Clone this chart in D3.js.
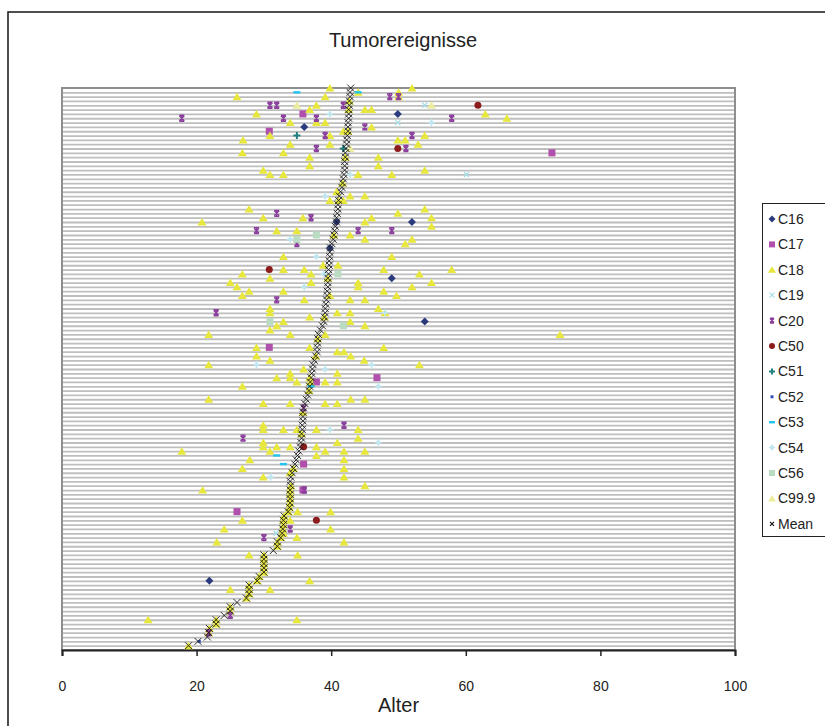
<!DOCTYPE html>
<html><head><meta charset="utf-8">
<script src="https://cdn.jsdelivr.net/npm/d3@7"></script>
<style>body{margin:0;background:#fff}svg{display:block;font-family:"Liberation Sans",Arial,sans-serif}</style>
</head><body><svg id="c" width="825" height="726"></svg>
<script>
const xTicks = [0, 20, 40, 60, 80, 100];
const rowCount = 130;
// mean age per patient row (row 1 = bottom)
const meanAge = [18.8,20.2,21.6,21.8,21.9,22.9,22.9,24.1,25.0,25.0,26.0,27.4,27.8,27.8,27.8,29.0,29.3,30.0,30.0,30.0,
30.0,30.0,31.4,32.0,32.0,32.5,32.7,32.8,32.9,32.9,33.0,33.6,33.8,33.9,33.9,33.9,33.9,34.0,33.9,34.0,
34.2,34.4,34.6,34.8,35.0,35.2,35.4,35.5,35.6,35.6,35.7,35.7,35.8,35.8,35.8,35.9,36.1,36.3,36.5,36.7,
36.8,36.9,37.0,37.1,37.2,37.3,37.5,37.7,37.9,37.9,38.0,38.0,38.1,38.4,38.7,38.9,39.0,39.1,39.1,39.2,
39.3,39.4,39.4,39.5,39.5,39.5,39.6,39.6,39.7,39.7,39.8,39.8,39.9,40.1,40.3,40.4,40.5,40.6,40.8,40.8,
40.9,41.0,41.0,41.1,41.2,41.4,41.6,41.7,41.8,41.9,42.0,42.0,42.0,42.1,42.1,42.2,42.3,42.3,42.4,42.5,
42.5,42.5,42.6,42.6,42.6,42.7,42.7,42.8,42.8,42.9];

// [age, row]
const c16 = [[36.0,121],[49.9,124],[40.8,99],[52.0,99],[49.0,86],[53.9,76],[21.9,16],[39.8,93]];
const c17 = [[35.8,124],[30.8,120],[72.8,115],[30.8,70],[37.8,62],[46.8,63],[35.9,43],[26.0,32],[35.8,37]];
const c18 = [[26.0,128],[36.8,125],[37.8,126],[39.1,128],[39.8,130],[28.9,124],[33.9,122],[37.8,122],[39.1,122],[30.9,119],
[39.8,119],[39.8,117],[26.9,118],[33.9,117],[26.8,115],[32.9,115],[36.8,114],[36.8,112],[29.9,111],[30.9,110],
[32.9,110],[40.8,106],[39.8,104],[27.8,102],[29.9,100],[35.8,100],[20.8,99],[44.0,129],[50.0,129],[50.0,128],
[52.0,130],[45.0,125],[46.0,125],[62.9,124],[66.1,123],[46.0,121],[41.8,120],[49.9,118],[51.0,118],[53.9,119],
[52.9,117],[47.0,114],[47.0,112],[44.0,110],[49.0,110],[53.9,111],[42.8,105],[45.0,105],[41.8,104],[53.9,102],
[49.9,101],[45.0,99],[46.0,100],[54.9,100],[54.9,98],
[31.9,97],[34.9,97],[42.8,96],[45.0,95],[51.0,94],[52.0,95],[32.9,91],[49.0,91],[32.9,88],[36.0,88],
[37.0,87],[38.8,89],[41.0,89],[47.8,88],[53.1,87],[57.9,88],[26.8,87],[25.0,85],[26.0,84],[26.8,82],
[27.8,83],[30.9,86],[37.0,85],[32.9,83],[39.8,82],[44.0,85],[44.0,84],[42.8,81],[45.0,81],[47.8,83],
[49.7,82],[36.0,81],[52.0,84],[54.9,85],[30.9,79],[30.9,78],[30.9,74],[31.9,75],[32.9,76],[36.8,77],
[40.9,78],[42.8,78],[42.8,76],[45.0,75],[47.0,79],[48.0,78],[21.8,73],[33.9,73],[39.1,73],[74.0,73],
[28.9,70],[36.8,70],[47.8,70],[28.9,68],[40.9,69],[41.9,69],[42.9,68],[21.8,66],[30.9,67],[44.9,67],
[53.1,66],[31.9,63],[33.9,64],[33.9,63],[34.9,62],[35.9,65],[36.8,63],[40.9,64],[40.9,62],[39.1,62],
[26.8,61],[21.8,58],[29.9,57],[33.9,57],[39.1,57],[40.9,57],[42.9,58],[45.0,58],[29.9,52],[29.9,51],
[32.9,51],[34.9,51],[37.8,51],[44.0,51],[44.0,49],[17.8,46],[29.9,48],[29.9,47],[30.9,46],[31.9,47],
[33.9,47],[37.8,47],[39.1,46],[40.9,48],[41.9,46],[45.0,46],[27.9,44],[26.8,42],[37.8,45],[41.9,44],
[41.9,42],[41.9,40],[29.9,40],[33.9,41],[45.0,38],[20.9,37],[26.8,30],[24.1,28],[23.0,25],[35.0,32],
[39.9,32],[39.9,28],[41.9,25],[33.9,30],[32.9,27],[34.9,26],[27.8,22],[35.0,22],[25.0,14],[30.9,14],
[36.8,16],[12.8,7],[34.9,7],
// single events lying on the mean
[18.8,1],[21.8,4],[21.9,5],[22.9,6],[22.9,7],[25.0,9],[25.0,10],[27.4,12],[27.8,13],[27.8,14],
[27.8,15],[29.0,16],[29.3,17],[30.0,18],[30.0,19],[30.0,20],[30.0,21],[30.0,22],[32.0,24],[32.0,25],
[32.5,26],[32.7,27],[32.8,28],[32.9,29],[32.9,30],[33.0,31],[33.6,32],[33.8,33],[33.9,34],[33.9,35],
[33.9,36],[33.9,37],[34.0,38],[34.4,42],[35.6,50],[35.8,55],[36.7,60],[36.9,62],[37.7,68],[38.0,72],
[39.0,77],[39.5,86],[40.4,96],[41.1,104],[41.7,108],[42.1,114],[42.5,120],[42.6,125],[42.7,127]];
const c19 = [[53.9,126],[49.9,122],[60.1,110],[31.8,27]];
const c20 = [[30.9,126],[31.9,126],[17.8,123],[32.9,123],[37.8,123],[39.1,119],[37.8,116],[31.9,101],[37.0,100],[48.7,128],
[50.0,128],[41.8,126],[57.9,123],[45.0,121],[52.0,119],[51.1,116],[28.9,97],[44.0,97],[49.0,97],[34.9,94],
[31.9,81],[22.9,78],[35.9,56],[41.9,52],[26.9,49],[36.0,37],[33.9,28],[30.0,26],[21.8,4],[25.0,8]];
const c50 = [[61.8,126],[49.9,116],[30.8,88],[35.9,47],[37.8,30]];
const c51 = [[34.9,119],[41.8,116]];
const c52 = [[20.4,2]];
const c53 = [[34.9,129],[44.0,129],[37.0,61],[31.9,45],[32.9,43]];
const c54 = [[39.8,124],[54.9,122],[42.8,110],[39.1,105],[33.9,95],[37.8,91],[38.9,87],[36.0,84],[48.0,78],[28.9,66],
[46.0,66],[39.1,65],[47.0,61],[39.8,51],[47.0,48],[31.0,40]];
const c56 = [[37.8,96],[34.9,95],[41.0,87],[30.9,76],[41.8,75]];
const c999 = [[34.9,126],[54.9,126],[42.8,116]];

const seriesNames = ["C16","C17","C18","C19","C20","C50","C51","C52","C53","C54","C56","C99.9","Mean"];
const seriesColors = ["#2b3a7c","#b050ac","#e8e83c","#a6dfe8","#8a3c9c","#8c1c1c","#1f8080","#3050b8","#22c4ec","#bfe6f0","#b9dcc2","#ecec9e","#111111"];
const seriesShapes = ["diamond","square","triangle","x","star","circle","plus","dot","dash","star4","square","triangle","x"];

const svg = d3.select("#c");
const L = 62, R = 735, T = 88, B = 650;
const x = d3.scaleLinear().domain([0, 100]).range([L, R]);
const y = d3.scaleLinear().domain([0, rowCount]).range([B, T]);

// outer frame
svg.append("rect").attr("x", 8).attr("y", 12).attr("width", 840).attr("height", 740)
  .attr("fill", "#fff").attr("stroke", "#222").attr("stroke-width", 1.6);

// title
svg.append("text").attr("x", 403).attr("y", 47).attr("text-anchor", "middle")
  .attr("font-size", 20).attr("fill", "#222").text("Tumorereignisse");

// plot background
svg.append("rect").attr("x", L).attr("y", T).attr("width", R - L).attr("height", B - T).attr("fill", "#fff");

// horizontal gridlines via axis
const gridVals = d3.range(1, rowCount);
const grid = svg.append("g").attr("transform", `translate(${L},0)`)
  .call(d3.axisLeft(y).tickValues(gridVals).tickSize(-(R - L)).tickFormat(""));
grid.select(".domain").remove();
grid.selectAll(".tick line").attr("stroke", "#bebebe").attr("stroke-width", 1.8);

// plot border (gray)
svg.append("rect").attr("x", L).attr("y", T).attr("width", R - L).attr("height", B - T)
  .attr("fill", "none").attr("stroke", "#8e8e8e").attr("stroke-width", 2);

// x axis
const xa = svg.append("g").attr("transform", `translate(0,${B})`)
  .call(d3.axisBottom(x).tickValues(xTicks).tickSize(6).tickPadding(25).tickFormat(d3.format("d")));
xa.select(".domain").attr("stroke", "#222").attr("stroke-width", 2);
xa.selectAll(".tick line").attr("stroke", "#222").attr("stroke-width", 1.5);
xa.selectAll("text").attr("font-size", 14).attr("fill", "#222").attr("font-family", "Liberation Sans, Arial, sans-serif");

svg.append("text").attr("x", (L + R) / 2).attr("y", 712).attr("text-anchor", "middle")
  .attr("font-size", 20).attr("fill", "#222").text("Alter");

// marker drawing
function marker(g, shape, color, s, sw) {
  const h = s / 2;
  switch (shape) {
    case "diamond":
      g.append("path").attr("d", `M0,${-h-0.5}L${h+0.5},0L0,${h+0.5}L${-h-0.5},0Z`).attr("fill", color); break;
    case "square":
      g.append("rect").attr("x", -h).attr("y", -h).attr("width", s).attr("height", s).attr("fill", color); break;
    case "triangle":
      g.append("path").attr("d", `M0,${-h-0.5}L${h+1},${h}L${-h-1},${h}Z`).attr("fill", color); break;
    case "x":
      g.append("path").attr("d", `M${-h+0.5},${-h+0.5}L${h-0.5},${h-0.5}M${h-0.5},${-h+0.5}L${-h+0.5},${h-0.5}`)
        .attr("stroke", color).attr("stroke-width", sw || 1.3).attr("fill", "none"); break;
    case "star":
      g.append("path").attr("d", `M${-h+1},${-h+1}L${h-1},${h-1}M${h-1},${-h+1}L${-h+1},${h-1}M0,${-h}L0,${h}M${-h+1},${-h+0.5}L${h-1},${-h+0.5}M${-h+1},${h-0.5}L${h-1},${h-0.5}`)
        .attr("stroke", color).attr("stroke-width", 1.4).attr("fill", "none"); break;
    case "circle":
      g.append("circle").attr("r", h).attr("fill", color); break;
    case "plus":
      g.append("path").attr("d", `M0,${-h}L0,${h}M${-h},0L${h},0`).attr("stroke", color).attr("stroke-width", 2).attr("fill", "none"); break;
    case "dot":
      g.append("rect").attr("x", -1.5).attr("y", -1.5).attr("width", 3).attr("height", 3).attr("fill", color); break;
    case "dash":
      g.append("rect").attr("x", -h).attr("y", -1.2).attr("width", s).attr("height", 2.4).attr("fill", color); break;
    case "star4":
      g.append("path").attr("d", `M0,${-h-0.5}L1.3,-1.3L${h+0.5},0L1.3,1.3L0,${h+0.5}L-1.3,1.3L${-h-0.5},0L-1.3,-1.3Z`).attr("fill", color); break;
  }
}

const seriesData = [c16, c17, c18, c19, c20, c50, c51, c52, c53, c54, c56, c999];
const sizes = [7, 7, 7, 6, 7, 7, 7, 3, 7, 8, 7, 7];
const pts = svg.append("g");
seriesData.forEach((data, i) => {
  data.forEach(d => {
    const g = pts.append("g").attr("transform", `translate(${x(d[0])},${y(d[1])})`);
    marker(g, seriesShapes[i], seriesColors[i], sizes[i]);
  });
});
// mean markers
meanAge.forEach((m, i) => {
  const g = pts.append("g").attr("transform", `translate(${x(m)},${y(i + 1)})`);
  marker(g, "x", "#1a1a1a", 8, 0.9);
});

// legend
const lg = svg.append("g");
lg.append("rect").attr("x", 762.5).attr("y", 203.5).attr("width", 90).attr("height", 333)
  .attr("fill", "#fff").attr("stroke", "#222").attr("stroke-width", 1);
seriesNames.forEach((n, i) => {
  const yy = 219 + i * 25.4;
  const g = lg.append("g").attr("transform", `translate(772,${yy})`);
  marker(g, seriesShapes[i], seriesColors[i], i === 12 ? 5 : 6, 1.1);
  lg.append("text").attr("x", 778).attr("y", yy + 5).attr("font-size", 14).attr("fill", "#222").text(n);
});
</script></body></html>
